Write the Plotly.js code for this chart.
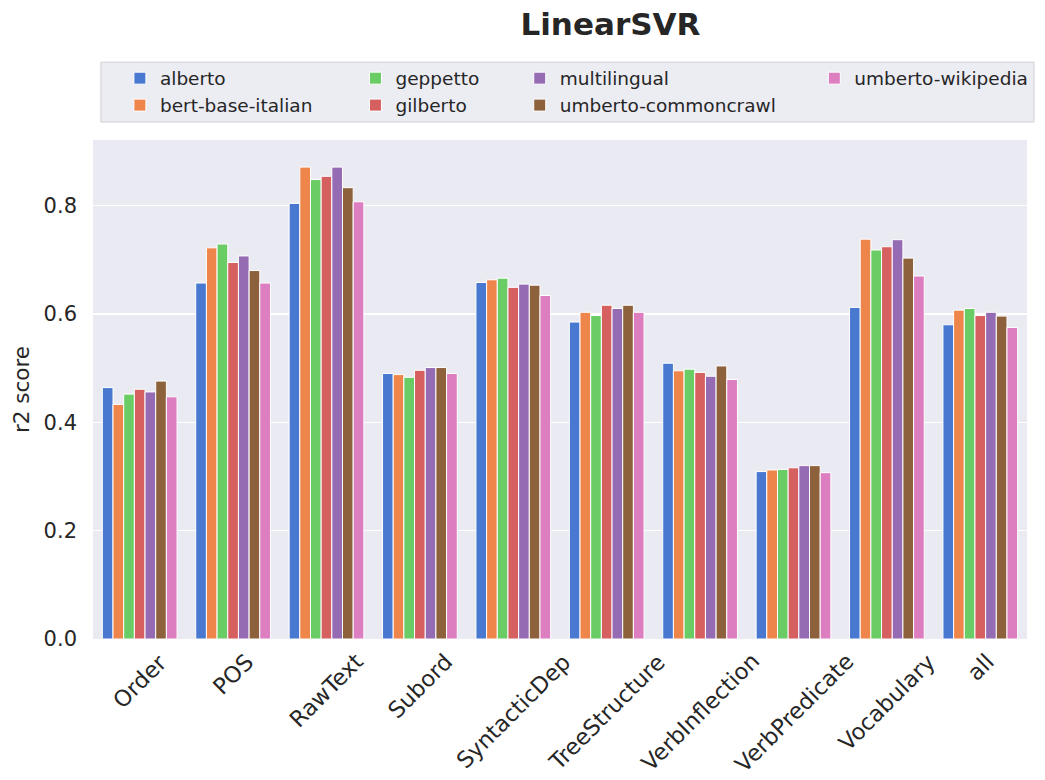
<!DOCTYPE html>
<html>
<head>
<meta charset="utf-8">
<script src="https://cdn.plot.ly/plotly-3.0.1.min.js"></script>
<style>html,body{margin:0;padding:0;background:#fff;}#chart{width:1045px;height:780px;}</style>
</head>
<body>
<div id="chart"></div>
<script>
const categories = ["Order","POS","RawText","Subord","SyntacticDep","TreeStructure","VerbInflection","VerbPredicate","Vocabulary","all"];
const models = ["alberto","bert-base-italian","geppetto","gilberto","multilingual","umberto-commoncrawl","umberto-wikipedia"];
const alberto            = [0.464,0.657,0.804,0.490,0.658,0.585,0.509,0.309,0.612,0.580];
const bertBaseItalian    = [0.433,0.722,0.871,0.488,0.663,0.603,0.495,0.312,0.738,0.607];
const geppetto           = [0.452,0.729,0.848,0.483,0.666,0.597,0.498,0.313,0.718,0.610];
const gilberto           = [0.461,0.695,0.854,0.496,0.649,0.616,0.492,0.316,0.724,0.597];
const multilingual       = [0.456,0.707,0.871,0.501,0.655,0.610,0.485,0.320,0.737,0.603];
const umbertoCommoncrawl = [0.476,0.680,0.833,0.501,0.653,0.616,0.504,0.320,0.703,0.596];
const umbertoWikipedia   = [0.447,0.657,0.807,0.490,0.634,0.603,0.479,0.307,0.670,0.575];
const seriesValues = [alberto,bertBaseItalian,geppetto,gilberto,multilingual,umbertoCommoncrawl,umbertoWikipedia];
const colors = ["#4878D0","#EE854A","#6ACC64","#D65F5F","#956CB4","#8C613C","#DC7EC0"];
const yTickVals = [0,0.2,0.4,0.6,0.8];
const yTickText = ['0.0','0.2','0.4','0.6','0.8'];

// legend grid (column-major like the reference)
const legendIds = ["legend","legend2","legend3","legend4","legend5","legend6","legend7"];
const legendX = [0.0288, 0.0288, 0.2810, 0.2810, 0.4569, 0.4569, 0.7723];
const legendY = [1.123, 1.069, 1.123, 1.069, 1.123, 1.069, 1.123];

const traces = models.map((m,i)=>({
  type:'bar', name:m, x:categories, y:seriesValues[i],
  marker:{color:colors[i], line:{color:'#ffffff', width:1}},
  legend: legendIds[i], showlegend:true, hoverinfo:'x+y+name'
}));

const tickAnnotations = categories.map(c=>({
  x:c, xref:'x', y:-0.016, yref:'paper', text:c, showarrow:false,
  textangle:-45, xanchor:'center', yanchor:'top', borderpad:0,
  font:{size:22.5, color:'#262626', family:'DejaVu Sans, sans-serif'}
}));

const layout = {
  width:1045, height:780,
  paper_bgcolor:'#ffffff', plot_bgcolor:'#EAEAF2',
  margin:{l:93, r:15, t:140, b:141},
  font:{family:'DejaVu Sans, sans-serif', color:'#262626'},
  title:{text:'<b>LinearSVR</b>', font:{size:31, color:'#262626', family:'DejaVu Sans, sans-serif'},
         x:0.554, xref:'paper', xanchor:'center', y:0.969, yref:'container', yanchor:'middle'},
  barmode:'group', bargap:0.2, bargroupgap:0,
  xaxis:{type:'category', showticklabels:false, showgrid:false, ticks:'', zeroline:false, showline:false, automargin:false},
  yaxis:{range:[0,0.921], tickvals:yTickVals, ticktext:yTickText,
         tickfont:{size:21, color:'#262626'}, gridcolor:'#ffffff', gridwidth:1.3, zeroline:false, showline:false, ticks:'',
         ticklabelstandoff:15, automargin:false,
         title:{text:'r2 score', font:{size:21.5, color:'#262626'}, standoff:8}},
  annotations: tickAnnotations,
  shapes:[{type:'rect', xref:'paper', yref:'paper', x0:0.0085, x1:1.0075, y0:1.036, y1:1.156,
           fillcolor:'rgba(236,236,243,1)', line:{color:'#cfcfd6', width:1}, layer:'below'}]
};
legendIds.forEach((id,i)=>{
  layout[id] = {x:legendX[i], xanchor:'left', y:legendY[i], yanchor:'middle', xref:'paper', yref:'paper',
    bgcolor:'rgba(0,0,0,0)', borderwidth:0, font:{size:18.5, color:'#262626'}, orientation:'v'};
});

Plotly.newPlot('chart', traces, layout, {displayModeBar:false, staticPlot:true});
</script>
</body>
</html>
